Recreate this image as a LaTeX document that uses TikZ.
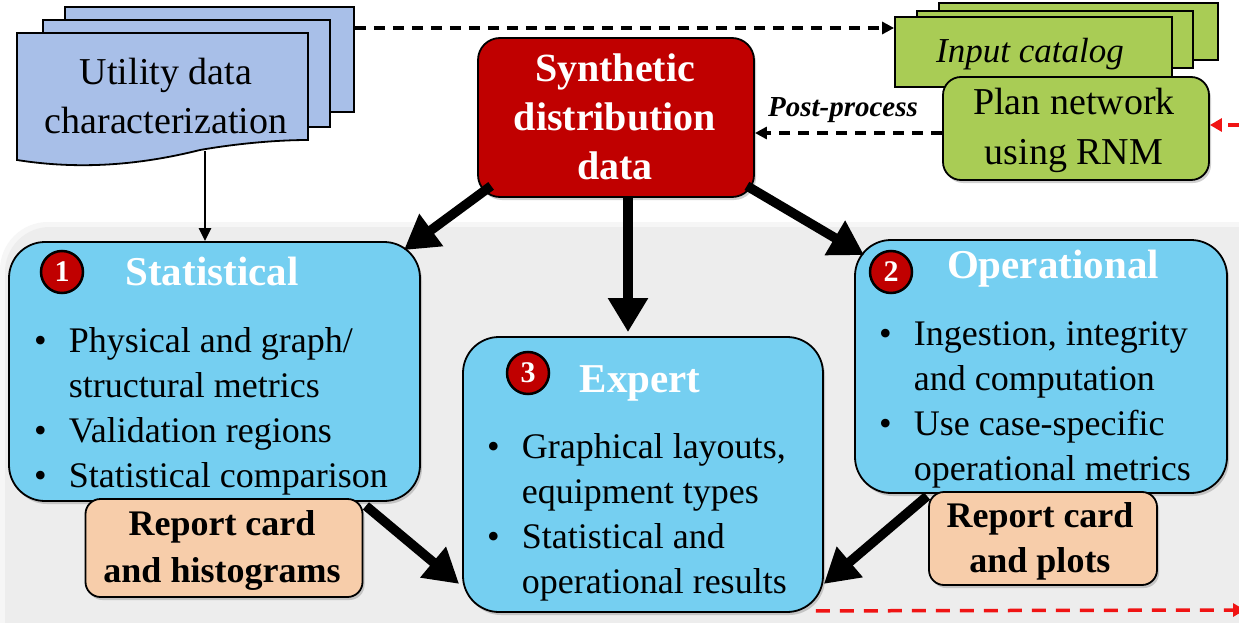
\documentclass[tikz,border=0pt]{standalone}
\usepackage{fontspec}
\setmainfont{Liberation Serif}
\usetikzlibrary{arrows.meta,shadows,calc}
\definecolor{docblue}{RGB}{168,191,232}
\definecolor{docgreen}{RGB}{169,204,85}
\definecolor{synred}{RGB}{192,0,0}
\definecolor{boxcyan}{RGB}{117,207,241}
\definecolor{peach}{RGB}{247,205,170}
\definecolor{bggray}{RGB}{237,237,237}
\definecolor{bgedge}{RGB}{246,246,246}
\definecolor{dashred}{RGB}{240,20,20}
\newcommand{\mlines}[1]{\begin{tabular}[t]{@{}c@{}}#1\end{tabular}}
\newcommand{\blist}[1]{\begin{tabular}[t]{@{}l@{\hspace{22pt}}l@{}}#1\end{tabular}}
\begin{document}
\begin{tikzpicture}[x=1pt,y=-1pt,
  sheetb/.style={draw, line width=1.8pt, fill=docblue, inner sep=0pt},
  sheetg/.style={draw, line width=1.8pt, fill=docgreen, inner sep=0pt},
  softshadow/.style={drop shadow={shadow xshift=2pt, shadow yshift=-3pt, opacity=.3, fill=black!60}},
  cbox/.style={draw, line width=1.8pt, fill=boxcyan, rounded corners=36pt, inner sep=0pt, softshadow},
  rcbox/.style={draw, line width=1.8pt, fill=peach, rounded corners=15pt, inner sep=0pt, softshadow},
  synbox/.style={draw, line width=1.8pt, fill=synred, rounded corners=22pt, inner sep=0pt, softshadow},
  planbox/.style={draw, line width=1.8pt, fill=docgreen, rounded corners=18pt, inner sep=0pt, softshadow},
  numc/.style={circle, draw=black, line width=2.5pt, fill=synred, minimum size=42pt, inner sep=0pt,
    text=white, font=\fontsize{30}{30}\selectfont\bfseries},
  ttl/.style={anchor=base, inner sep=0pt, text=white, font=\fontsize{41}{48}\selectfont\bfseries},
  blt/.style={anchor=base west, inner sep=0pt, font=\fontsize{36}{45}\selectfont},
  txt/.style={anchor=base, inner sep=0pt},
  fat/.style={line width=9.5pt, -{Triangle[length=34pt,width=38pt]}},
  thinarr/.style={line width=2.8pt, -{Triangle[length=13pt,width=12pt]}},
  blkdash/.style={line width=3.5pt, dash pattern=on 11pt off 8pt, -{Triangle[length=12pt,width=12pt]}},
  reddash/.style={line width=3.5pt, draw=dashred, dash pattern=on 14pt off 10pt, -{Triangle[length=12pt,width=13pt]}, color=dashred}
]
\useasboundingbox (0,0) rectangle (1239,623);
\fill[white] (0,0) rectangle (1239,623);

% grey panel
\fill[bgedge, rounded corners=48pt] (0,222) rectangle (1300,680);
\fill[bggray, rounded corners=45pt] (5,227) rectangle (1300,680);

% blue document stack
\node[sheetb, minimum width=289pt, minimum height=105pt] (bs3) at (209.5,59.5) {};
\node[sheetb, minimum width=287pt, minimum height=107pt] (bs2) at (186.5,73.5) {};
\draw[line width=1.8pt, fill=docblue] (17,33) -- (308,33) -- (308,140)
  .. controls (280,140) and (240,143) .. (200,150)
  .. controls (140,165) and (80,170) .. (17,160) -- cycle;
\node[txt, font=\fontsize{38}{48}\selectfont] (util) at (166,85) {\mlines{Utility data\\characterization}};
\coordinate (utilbot) at (205,151);

% green stack
\node[sheetg, minimum width=279pt, minimum height=57pt] (gs3) at (1078.5,31.5) {};
\node[sheetg, minimum width=276pt, minimum height=57pt] (gs2) at (1055,39.5) {};
\node[sheetg, minimum width=277pt, minimum height=70pt] (gs1) at (1033.5,52) {};
\node[txt, font=\fontsize{35}{40}\selectfont\itshape] (incat) at (1030,63) {Input catalog};
\node[planbox, minimum width=266pt, minimum height=103pt] (plan) at (1076,128.5) {};
\node[txt, font=\fontsize{38}{50}\selectfont] (plantxt) at (1074,115) {\mlines{Plan network\\using RNM}};

% synthetic data
\node[synbox, minimum width=276pt, minimum height=159pt] (syn) at (616,117.5) {};
\node[txt, text=white, font=\fontsize{40}{49}\selectfont\bfseries] (syntxt) at (615,82) {\mlines{Synthetic\\distribution\\data}};

% top dashed connectors
\draw[blkdash] (bs3.east |- 0,28) -- (gs1.west |- 0,28);
\draw[blkdash] (plan.west |- 0,133) -- (syn.east |- 0,133);
\node[txt, font=\fontsize{29}{32}\selectfont\bfseries\itshape] (pp) at (843,117) {Post-process};
\coordinate (redin) at (1242,125);
\draw[reddash] (redin) -- (plan.east |- redin);

% main boxes
\node[cbox, minimum width=411pt, minimum height=259pt] (stat) at (214.5,371.5) {};
\node[cbox, minimum width=372pt, minimum height=253pt] (oper) at (1041,366.5) {};
\node[cbox, minimum width=360pt, minimum height=275pt] (expert) at (643,474.5) {};

\node[numc] (c1) at (62,272) {1};
\node[ttl] (stattl) at (212,285) {Statistical};
\node[blt] (statlist) at (34,352) {\blist{\textbullet & Physical and graph/\\ & structural metrics\\ \textbullet & Validation regions\\ \textbullet & Statistical comparison}};

\node[numc] (c2) at (891,272) {2};
\node[ttl] (opertl) at (1053,278) {Operational};
\node[blt] (operlist) at (879,345) {\blist{\textbullet & Ingestion, integrity\\ & and computation\\ \textbullet & Use case-specific\\ & operational metrics}};

\node[numc] (c3) at (528,373) {3};
\node[ttl] (experttl) at (640,392) {Expert};
\node[blt] (expertlist) at (487,458) {\blist{\textbullet & Graphical layouts,\\ & equipment types\\ \textbullet & Statistical and\\ & operational results}};

% report cards
\node[rcbox, minimum width=277pt, minimum height=98pt] (rch) at (224,548) {};
\node[txt, font=\fontsize{36}{47}\selectfont\bfseries] (rchtxt) at (222,535) {\mlines{Report card\\and histograms}};
\node[rcbox, minimum width=228pt, minimum height=93pt] (rcp) at (1043,538.5) {};
\node[txt, font=\fontsize{36}{45}\selectfont\bfseries] (rcptxt) at (1040,527) {\mlines{Report card\\and plots}};

% thick arrows
\draw[fat] ($(syn.south west)+(14,-12)$) -- ($(stat.north east)+(-17,9)$);
\draw[fat] ($(syn.south)+(12,0)$) -- ($(expert.north)+(-15,-4)$);
\draw[fat] ($(syn.south east)+(-8,-12)$) -- ($(oper.north west)+(10,16)$);
\draw[fat] ($(stat.south east)+(-55,4)$) -- ($(expert.south west)+(-3,-29)$);
\draw[fat] ($(rcp.north west)+(-1,5)$) -- ($(expert.south east)+(0,-29)$);

% thin arrow from utility data
\draw[thinarr] (utilbot) -- (utilbot |- stat.north);

% bottom red dashed
\coordinate (redout) at (1245,610);
\draw[reddash] ($(expert.south east)+(-8,-2)$) -- (redout);
\end{tikzpicture}
\end{document}
